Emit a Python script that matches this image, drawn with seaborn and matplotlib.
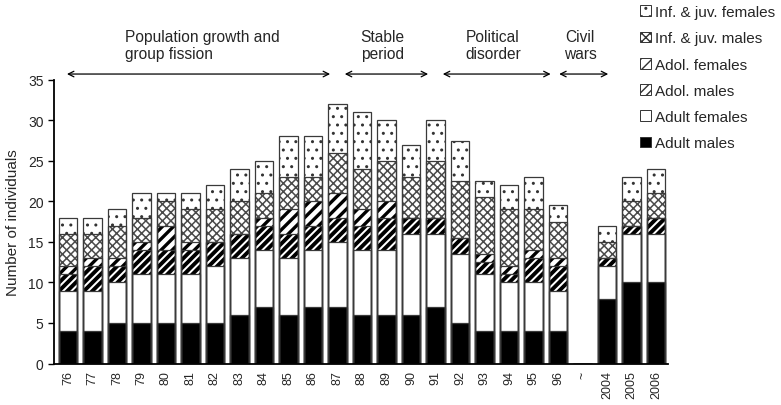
import matplotlib
matplotlib.use("Agg")
import matplotlib.pyplot as plt
from matplotlib.patches import Patch
import seaborn as sns
import pandas as pd

# Census years (gap marked with "~")
years = ["76", "77", "78", "79", "80", "81", "82", "83", "84", "85", "86",
         "87", "88", "89", "90", "91", "92", "93", "94", "95", "96", "~",
         "2004", "2005", "2006"]

# Group composition per year (number of individuals)
adult_males =   [4, 4, 5, 5, 5, 5, 5, 6, 7, 6, 7, 7, 6, 6, 6, 7, 5, 4, 4, 4, 4, 0, 8, 10, 10]
adult_females = [5, 5, 5, 6, 6, 6, 7, 7, 7, 7, 7, 8, 8, 8, 10, 9, 8.5, 7, 6, 6, 5, 0, 4, 6, 6]
adol_males =    [2, 3, 2, 3, 3, 3, 3, 3, 3, 3, 3, 3, 3, 4, 2, 2, 2, 1.5, 1, 3, 3, 0, 1, 1, 2]
adol_females =  [1, 1, 1, 1, 3, 1, 0, 0, 1, 3, 3, 3, 2, 2, 0, 0, 0, 1, 1, 1, 1, 0, 0, 0, 0]
infjuv_males =  [4, 3, 4, 3, 3, 4, 4, 4, 3, 4, 3, 5, 5, 5, 5, 7, 7, 7, 7, 5, 4.5, 0, 2, 3, 3]
infjuv_females = [2, 2, 2, 3, 1, 2, 3, 4, 4, 5, 5, 6, 7, 5, 4, 5, 5, 2, 3, 4, 2, 0, 2, 3, 3]

series_names = ["Adult males", "Adult females", "Adol. males", "Adol. females",
                "Inf. & juv. males", "Inf. & juv. females"]
series_values = [adult_males, adult_females, adol_males, adol_females,
                 infjuv_males, infjuv_females]

# Period annotations: (label, first year, last year)
periods = [("Population growth and\ngroup fission", "76", "87"),
           ("Stable\nperiod", "87", "91"),
           ("Political\ndisorder", "91", "96"),
           ("Civil\nwars", "96", "2004")]

# styles per series: (face, hatch, hatch colour, hatch linewidth)
styles = {
    "Adult males": ("black", "", "black", 1.0),
    "Adult females": ("white", "", "black", 1.0),
    "Adol. males": ("white", "////", "black", 2.8),
    "Adol. females": ("white", "///", "black", 2.4),
    "Inf. & juv. males": ("white", "xxxx", "#4a4a4a", 1.1),
    "Inf. & juv. females": ("white", "..", "#333333", 1.0),
}

sns.set_style("ticks")
plt.rcParams["font.family"] = ["Liberation Sans", "DejaVu Sans"]

df = pd.DataFrame({"year": years})
cum = [0.0] * len(years)
for name, vals in zip(series_names, series_values):
    cum = [c + v for c, v in zip(cum, vals)]
    df[name] = cum

fig = plt.figure(figsize=(7.81, 4.06), dpi=100)
ax = fig.add_axes([0.0691, 0.1022, 0.7862, 0.699])

bar_w = 0.75
# draw cumulative totals from the top layer down so each segment shows
for name in reversed(series_names):
    face, hatch, hcol, hlw = styles[name]
    with plt.rc_context({"hatch.linewidth": hlw, "hatch.color": hcol}):
        sns.barplot(data=df, x="year", y=name, order=years, ax=ax,
                    color=face, saturation=1, width=bar_w, errorbar=None,
                    hatch=hatch, edgecolor=hcol, linewidth=0)
    if face == "black":
        for p in ax.patches[-len(years):]:
            p.set_facecolor("black")
# segment outlines
for name in reversed(series_names):
    sns.barplot(data=df, x="year", y=name, order=years, ax=ax,
                fill=False, width=bar_w, errorbar=None,
                edgecolor="#3a3a3a", linewidth=0.9)

ax.set_xlim(-0.57, len(years) - 0.51)
ax.set_ylim(0, 35)
ax.set_yticks(range(0, 36, 5))
ax.set_xlabel("")
ax.set_ylabel("Number of individuals", fontsize=11, labelpad=6)
ax.tick_params(axis="y", labelsize=10, length=4, width=1, color="black")
ax.tick_params(axis="x", labelsize=9, length=0, rotation=90, pad=5)
for s in ["top", "right"]:
    ax.spines[s].set_visible(False)
for s in ["left", "bottom"]:
    ax.spines[s].set_linewidth(1.3)
    ax.spines[s].set_color("black")

# period arrows and labels
idx = {y: i for i, y in enumerate(years)}
arrow_y = 35.7
for k, (label, start, end) in enumerate(periods):
    x0 = idx[start] - 0.04 if k == 0 else idx[start] + 0.3
    x1 = idx[end] - 0.3 if k < len(periods) - 1 else idx[end] + 0.05
    if k == len(periods) - 1:
        x0 = idx[start] + 0.05
    ax.annotate("", xy=(x0, arrow_y), xytext=(x1, arrow_y),
                arrowprops=dict(arrowstyle="<->", color="black", lw=0.9,
                                shrinkA=0, shrinkB=0, mutation_scale=10),
                annotation_clip=False)
    if k == 0:
        ax.text(2.33, 39.3, label, ha="left", va="center", fontsize=11.2,
                linespacing=1.2, clip_on=False)
    else:
        ax.text((x0 + x1) / 2 - 0.15, 39.3, label, ha="center", va="center",
                fontsize=11.2, linespacing=1.2, clip_on=False)

# legend (top entry is the top of the stack)
handles = []
for name in reversed(series_names):
    face, hatch, hcol, hlw = styles[name]
    handles.append(Patch(facecolor=face, hatch=hatch, edgecolor="#333333",
                         linewidth=0.7, label=name))
fig.legend(handles=handles, loc="upper left", bbox_to_anchor=(0.812, 1.0),
           frameon=False, fontsize=11, handlelength=0.7, handleheight=0.7,
           handletextpad=0.25, labelspacing=0.8, borderaxespad=0.15,
           borderpad=0.25)

fig.savefig("out.png", dpi=100)
